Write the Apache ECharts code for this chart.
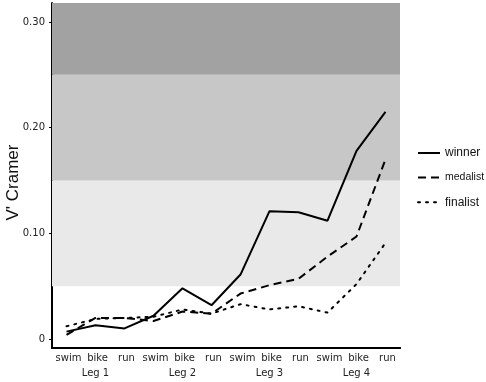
<!DOCTYPE html>
<html>
<head>
<meta charset="utf-8">
<script src="https://cdn.jsdelivr.net/npm/echarts@6/dist/echarts.min.js"></script>
<style>
  html, body { margin: 0; padding: 0; background: #fff; }
  #chart { width: 486px; height: 382px; }
</style>
</head>
<body>
<div id="chart"></div>
<script>
// x categories: discipline inside each leg
const disciplines = ["swim", "bike", "run", "swim", "bike", "run", "swim", "bike", "run", "swim", "bike", "run"];
const legs = ["Leg 1", "Leg 2", "Leg 3", "Leg 4"];

// V' Cramer values
const winner   = [0.007, 0.013, 0.010, 0.022, 0.048, 0.032, 0.061, 0.121, 0.120, 0.112, 0.178, 0.215];
const medalist = [0.004, 0.020, 0.020, 0.017, 0.026, 0.024, 0.043, 0.051, 0.057, 0.078, 0.097, 0.170];
const finalist = [0.012, 0.019, 0.020, 0.021, 0.028, 0.024, 0.033, 0.028, 0.031, 0.025, 0.052, 0.091];

// shaded effect-size bands
const bands = [
  { from: 0.05, to: 0.15, color: "#e9e9e9" },
  { from: 0.15, to: 0.25, color: "#c7c7c7" },
  { from: 0.25, to: 0.318, color: "#a2a2a2" }
];
const yTicks = [0, 0.1, 0.2, 0.3];

const chart = echarts.init(document.getElementById("chart"));

const axisFont = { fontFamily: "DejaVu Sans", fontSize: 10, color: "#222" };

chart.setOption({
  animation: false,
  grid: { left: 52, right: 86, top: 3, bottom: 34, outerBoundsMode: "none" },
  legend: {
    data: ["winner", "medalist", "finalist"],
    orient: "vertical",
    left: 417,
    top: 147,
    padding: 0,
    itemWidth: 22,
    itemHeight: 14,
    itemGap: 13,
    itemStyle: { opacity: 0 },
    // the reference sets "medalist" a bit narrower than the other two
    formatter: name => (name === "medalist" ? "{m|" + name + "}" : name),
    textStyle: {
      fontFamily: "Liberation Sans", fontSize: 12, color: "#111",
      rich: { m: { fontFamily: "Liberation Sans", fontSize: 10.5, color: "#111" } }
    }
  },
  xAxis: [
    {
      type: "category",
      data: disciplines,
      axisLine: { onZero: false, lineStyle: { color: "#000", width: 2 } },
      axisTick: { show: false },
      axisLabel: Object.assign({ margin: 5, interval: 0, padding: [0, 0, 0, 4] }, axisFont)
    },
    {
      type: "category",
      data: legs,
      position: "bottom",
      axisLine: { onZero: false, lineStyle: { color: "#000", width: 2 } },
      axisTick: { length: 14, lineStyle: { color: "#000", width: 2 } },
      axisLabel: Object.assign({ margin: 20 }, axisFont)
    }
  ],
  yAxis: {
    type: "value",
    min: -0.0085,
    max: 0.318,
    name: "V' Cramer",
    nameLocation: "middle",
    nameGap: 30,
    nameMoveOverlap: false,
    nameTextStyle: { fontFamily: "Liberation Sans", fontSize: 17, color: "#111", padding: [0, 14, 0, 0] },
    splitLine: { show: false },
    axisLine: { show: true, lineStyle: { color: "#000", width: 2 } },
    axisTick: { show: true, length: 3, customValues: yTicks, lineStyle: { color: "#000" } },
    axisLabel: Object.assign({
      customValues: yTicks,
      margin: 7,
      formatter: v => (v === 0 ? "0" : v.toFixed(2))
    }, axisFont)
  },
  series: [
    {
      name: "winner",
      type: "line",
      data: winner,
      symbol: "none",
      lineStyle: { color: "#000", width: 2, type: "solid" },
      itemStyle: { color: "#000" },
      z: 3,
      markArea: {
        silent: true,
        z: 1,
        data: bands.map(b => [
          { yAxis: b.from, itemStyle: { color: b.color } },
          { yAxis: b.to }
        ])
      }
    },
    {
      name: "medalist",
      type: "line",
      data: medalist,
      symbol: "none",
      lineStyle: { color: "#000", width: 2, type: [8, 5] },
      itemStyle: { color: "#000" },
      z: 3
    },
    {
      name: "finalist",
      type: "line",
      data: finalist,
      symbol: "none",
      lineStyle: { color: "#000", width: 2, type: [2, 6], cap: "round" },
      itemStyle: { color: "#000" },
      z: 3
    }
  ]
});
</script>
</body>
</html>
